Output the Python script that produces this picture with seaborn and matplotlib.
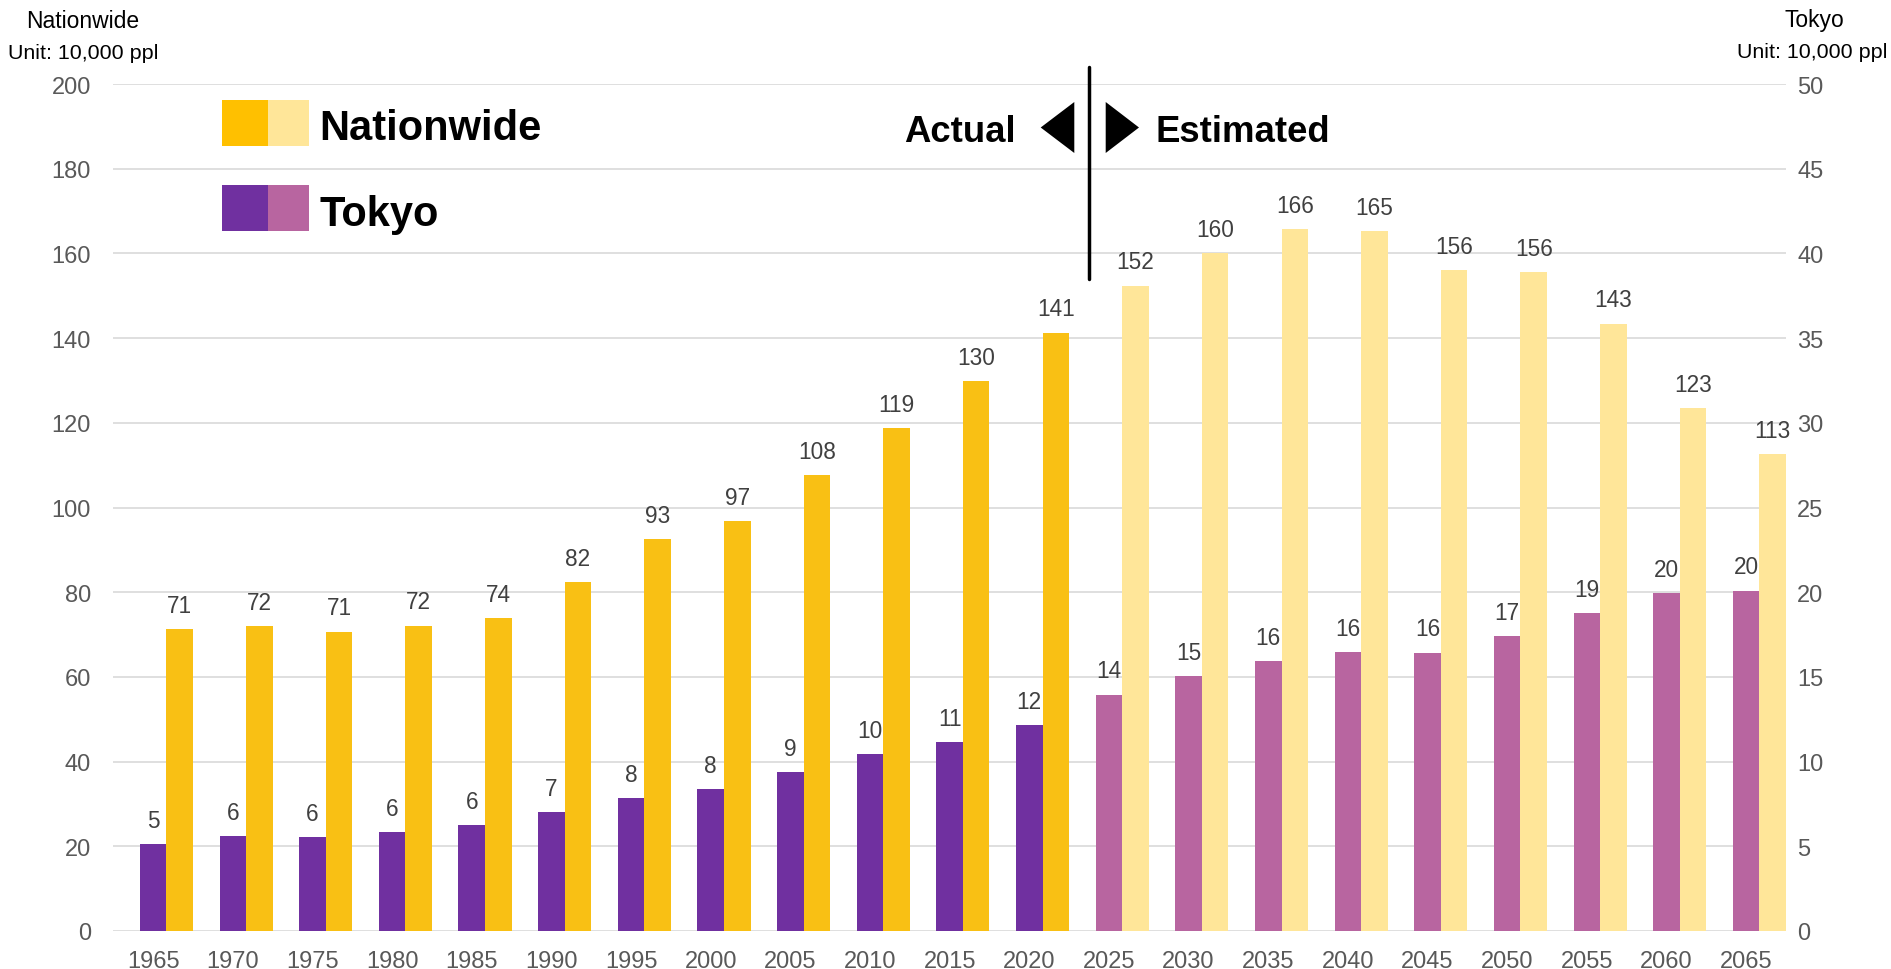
import numpy as np
import pandas as pd
import matplotlib
matplotlib.use("Agg")
import matplotlib.pyplot as plt
from matplotlib.patches import Rectangle, Polygon
import seaborn as sns

# data (unit: 10,000 people)
years = [1965, 1970, 1975, 1980, 1985, 1990, 1995, 2000, 2005, 2010, 2015,
         2020, 2025, 2030, 2035, 2040, 2045, 2050, 2055, 2060, 2065]
nationwide = [71.2, 72.0, 70.7, 72.1, 73.8, 82.4, 92.6, 96.7, 107.7, 118.8, 129.9,
              141.3, 152.4, 160.1, 165.8, 165.2, 156.1, 155.6, 143.4, 123.4, 112.6]
tokyo = [5.14, 5.61, 5.55, 5.83, 6.24, 7.01, 7.84, 8.37, 9.37, 10.43, 11.14,
         12.15, 13.96, 15.06, 15.93, 16.47, 16.43, 17.41, 18.75, 19.95, 20.10]
period = ["Actual"] * 12 + ["Estimated"] * 9

nat_colors = {"Actual": "#F9C014", "Estimated": "#FFE699"}
tok_colors = {"Actual": "#7030A0", "Estimated": "#B865A0"}

W, H = 1891, 970


def px(x, y):
    # pixel position in the 1891x970 canvas -> figure fraction
    return x / W, 1 - y / H


sns.set_theme(style="white")
plt.rcParams["font.family"] = ["Liberation Sans", "DejaVu Sans"]
plt.rcParams["text.color"] = "black"

pos = np.arange(len(years))
df_nat = pd.DataFrame({"pos": pos + 1 / 3, "value": nationwide, "period": period})
df_tok = pd.DataFrame({"pos": pos.astype(float), "value": tokyo, "period": period})

fig = plt.figure(figsize=(W / 100, H / 100), dpi=100)
ax = fig.add_axes([113.3 / W, 1 - 932 / H, (1786 - 113.3) / W, (932 - 85) / H])
ax2 = ax.twinx()

sns.barplot(data=df_nat, x="pos", y="value", hue="period", palette=nat_colors,
            native_scale=True, width=1 / 3, dodge=False, errorbar=None,
            saturation=1, legend=False, linewidth=0, ax=ax)
sns.barplot(data=df_tok, x="pos", y="value", hue="period", palette=tok_colors,
            native_scale=True, width=1 / 3, dodge=False, errorbar=None,
            saturation=1, legend=False, linewidth=0, ax=ax2)

for a in (ax, ax2):
    for c in a.containers:
        a.bar_label(c, fmt="{:.0f}", padding=8.8, fontsize=16.3, color="#404040")
    for s in a.spines.values():
        s.set_visible(False)
    a.set_xlabel("")
    a.set_ylabel("")

ax.set_xlim(-0.5, 20.5)
ax.set_xticks(pos)
ax.set_xticklabels([str(y) for y in years])
ax.set_ylim(0, 200)
ax.set_yticks(np.arange(0, 201, 20))
ax2.set_ylim(0, 50)
ax2.set_yticks(np.arange(0, 51, 5))

ax.grid(axis="y", color="#D9D9D9", linewidth=1.2)
ax.set_axisbelow(True)
ax2.grid(False)
ax.tick_params(axis="y", length=0, pad=16, labelsize=17, labelcolor="#595959")
ax.tick_params(axis="x", length=0, pad=14, labelsize=17, labelcolor="#595959")
ax2.tick_params(axis="y", length=0, pad=8, labelsize=17, labelcolor="#595959")

# axis headers
fig.text(*px(83, 28), "Nationwide", ha="center", va="baseline", fontsize=16.5, color="black")
fig.text(*px(83, 59), "Unit: 10,000 ppl", ha="center", va="baseline", fontsize=15.4, color="black")
fig.text(*px(1814, 27), "Tokyo", ha="center", va="baseline", fontsize=16.5, color="black")
fig.text(*px(1812, 58), "Unit: 10,000 ppl", ha="center", va="baseline", fontsize=15.4, color="black")

# legend: two-tone swatches
for (y0, y1), key, cols in [((101, 147), "Nationwide", nat_colors), ((186, 232), "Tokyo", tok_colors)]:
    x0, y_lo = px(222, y1)
    fig.patches.append(Rectangle((x0, y_lo), 46 / W, (y1 - y0) / H, transform=fig.transFigure,
                                 facecolor="#FFC000" if key == "Nationwide" else cols["Actual"],
                                 edgecolor="none"))
    x1, _ = px(268, y1)
    fig.patches.append(Rectangle((x1, y_lo), 41 / W, (y1 - y0) / H, transform=fig.transFigure,
                                 facecolor=cols["Estimated"], edgecolor="none"))
fig.text(*px(319, 140), "Nationwide", ha="left", va="baseline", fontsize=30,
         fontweight="bold", color="black")
fig.text(*px(319, 226), "Tokyo", ha="left", va="baseline", fontsize=30,
         fontweight="bold", color="black")

# actual / estimated divider
ax.plot([11.75, 11.75], [154, 204], color="black", linewidth=2.5, clip_on=False)
fig.patches.append(Polygon([px(1074.3, 103), px(1074.3, 154), px(1040.7, 128.5)],
                           closed=True, transform=fig.transFigure, facecolor="black", edgecolor="none"))
fig.patches.append(Polygon([px(1105.7, 103), px(1105.7, 154), px(1139, 128.5)],
                           closed=True, transform=fig.transFigure, facecolor="black", edgecolor="none"))
fig.text(*px(1016, 141.5), "Actual", ha="right", va="baseline", fontsize=26.3,
         fontweight="bold", color="black")
fig.text(*px(1156, 141.5), "Estimated", ha="left", va="baseline", fontsize=26.3,
         fontweight="bold", color="black")

fig.savefig("out.png", dpi=100)
